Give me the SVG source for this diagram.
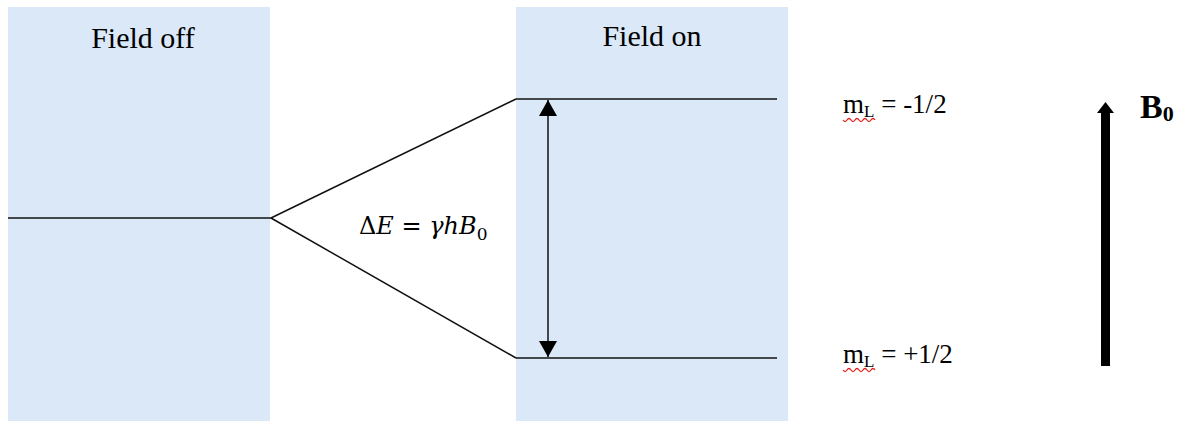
<svg xmlns="http://www.w3.org/2000/svg" width="1183" height="421" viewBox="0 0 1183 421">
<defs>
<style>
.panel{fill:#dae8f8}
.ln{stroke:#111;stroke-width:1.5;fill:none}
.t{font-family:"Liberation Serif",serif;font-size:30px;fill:#000}
.m{font-family:"Liberation Serif",serif;font-size:27px;fill:#000}
.sq{stroke:#e0201a;stroke-width:1.3;fill:none}
</style>
<marker id="ah" viewBox="0 0 16 18" refX="16" refY="9" markerWidth="16" markerHeight="18" markerUnits="userSpaceOnUse" orient="auto">
<path d="M0,0 L16,9 L0,18 Z" fill="#000"/>
</marker>
</defs>
<g id="panel-off">
<rect class="panel" x="8" y="7" width="262" height="414"/>
<text class="t" x="143" y="48" text-anchor="middle">Field off</text>
</g>
<g id="panel-on">
<rect class="panel" x="516" y="7" width="272" height="414"/>
<text class="t" x="652" y="46" text-anchor="middle">Field on</text>
</g>
<g id="connectors">
<line class="ln" x1="8" y1="218" x2="271" y2="218"/>
<line class="ln" x1="271" y1="218" x2="516" y2="99"/>
<line class="ln" x1="271" y1="218" x2="516" y2="358"/>
<line class="ln" x1="516" y1="99" x2="777" y2="99"/>
<line class="ln" x1="516" y1="358" x2="777" y2="358"/>
<line class="ln" x1="548" y1="229" x2="548" y2="100" marker-end="url(#ah)"/>
<line class="ln" x1="548" y1="229" x2="548" y2="357" marker-end="url(#ah)"/>
</g>
<g id="delta-e">
<text x="359" y="234" style="font-family:'DejaVu Serif',serif;font-size:24px;fill:#000">Δ<tspan font-style="italic">E</tspan> = <tspan font-style="italic">γhB</tspan><tspan font-size="17" dy="6">0</tspan></text>
</g>
<g id="level-top">
<text class="m" x="843" y="113">m<tspan font-size="17" dy="4">L</tspan><tspan dy="-4"> = -1/2</tspan></text>
<path class="sq" d="M843,120 q2,3 4,0 t4,0 t4,0 t4,0 t4,0 t4,0 t4,0 t4,0"/>
</g>
<g id="level-bottom">
<text class="m" x="843" y="363">m<tspan font-size="17" dy="4">L</tspan><tspan dy="-4"> = +1/2</tspan></text>
<path class="sq" d="M843,370 q2,3 4,0 t4,0 t4,0 t4,0 t4,0 t4,0 t4,0 t4,0"/>
</g>
<g id="field-b0">
<rect x="1101" y="112" width="9" height="254" fill="#000"/>
<path d="M1097,113 L1105.5,102 L1114,113 Z" fill="#000"/>
<text x="1140" y="118" style="font-family:'Liberation Serif',serif;font-weight:bold;font-size:34px">B<tspan font-size="22" dy="3">0</tspan></text>
</g>
</svg>
